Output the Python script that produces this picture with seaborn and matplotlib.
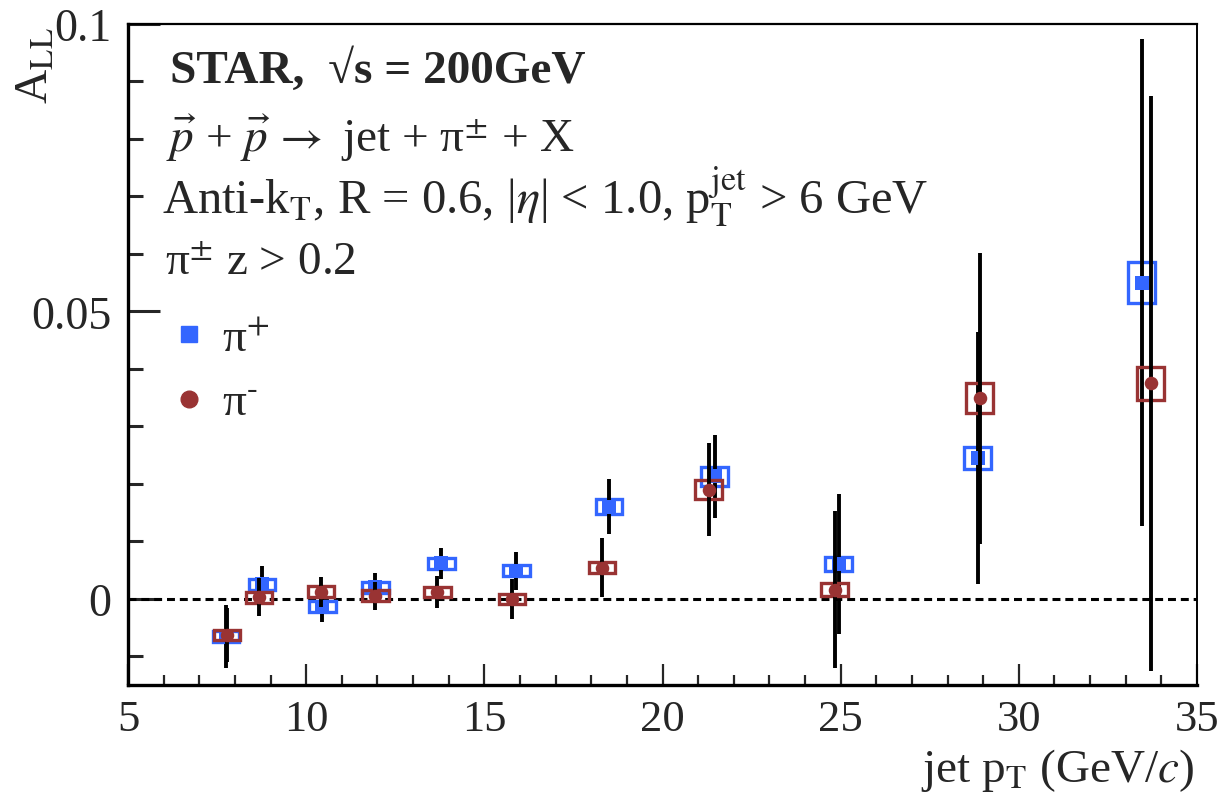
import numpy as np
import pandas as pd
import matplotlib
matplotlib.use("Agg")
import matplotlib.pyplot as plt
from matplotlib.patches import Rectangle
from matplotlib.lines import Line2D
from matplotlib.ticker import MultipleLocator, FixedLocator
import seaborn as sns

# values
pt_plus = [7.75, 8.76, 10.45, 11.94, 13.79, 15.9, 18.5, 21.46, 24.94, 28.85, 33.45]
all_plus = [-0.0066, 0.0025, -0.0014, 0.0020, 0.0062, 0.0049, 0.0160, 0.0213, 0.0060, 0.0245, 0.0550]
stat_plus = [0.0055, 0.0032, 0.0026, 0.0025, 0.0027, 0.0033, 0.0048, 0.0072, 0.0122, 0.0220, 0.0424]
sys_plus = [0.00095, 0.00095, 0.00095, 0.00095, 0.00095, 0.00095, 0.0013, 0.0016, 0.0012, 0.0019, 0.0036]

pt_minus = [7.78, 8.68, 10.42, 11.94, 13.68, 15.78, 18.3, 21.3, 24.83, 28.9, 33.7]
all_minus = [-0.0063, 0.0003, 0.0012, 0.0005, 0.0012, 0.0000, 0.0054, 0.0190, 0.0016, 0.0349, 0.0375]
stat_minus = [0.0047, 0.0033, 0.0026, 0.0025, 0.0028, 0.0035, 0.0051, 0.0081, 0.0137, 0.0253, 0.0500]
sys_minus = [0.00095, 0.00095, 0.00095, 0.00095, 0.0009, 0.0009, 0.00095, 0.0016, 0.0012, 0.0026, 0.0029]

x_ticks = [5, 10, 15, 20, 25, 30, 35]
y_ticks = [0, 0.05, 0.1]
y_tick_labels = ["0", "0.05", "0.1"]

labels = ["π$^{+}$", r"π$^{\text{-}}$"]
colors = {labels[0]: "#3366ff", labels[1]: "#993333"}
markers = {labels[0]: "s", labels[1]: "o"}

df = pd.concat([
    pd.DataFrame({"pt": pt_plus, "all": all_plus, "stat": stat_plus, "sys": sys_plus, "pion": labels[0]}),
    pd.DataFrame({"pt": pt_minus, "all": all_minus, "stat": stat_minus, "sys": sys_minus, "pion": labels[1]}),
], ignore_index=True)

sns.set_theme(style="white")
plt.rcParams["font.family"] = ["Liberation Serif", "DejaVu Serif"]
plt.rcParams["mathtext.fontset"] = "stix"

fig = plt.figure(figsize=(12.26, 8.03), dpi=100)
ax = fig.add_axes([128 / 1226, (803 - 686) / 803, (1197 - 128) / 1226, (686 - 25) / 803])

box_w = 0.75
z = 2
for lab in labels:
    sub = df[df["pion"] == lab]
    for _, r in sub.iterrows():
        ax.add_patch(Rectangle((r["pt"] - box_w / 2, r["all"] - r["sys"]), box_w, 2 * r["sys"],
                               fill=False, edgecolor=colors[lab], lw=2.4, zorder=z))
    ax.errorbar(sub["pt"], sub["all"], yerr=sub["stat"], fmt="none", ecolor="black",
                elinewidth=2.8, capsize=0, zorder=z + 1)
    sns.scatterplot(data=sub, x="pt", y="all", color=colors[lab], marker=markers[lab],
                    s=95, linewidth=0, ax=ax, zorder=z + 2, legend=False)
    z += 3

ax.axhline(0, color="black", lw=2.2, ls=(0, (2.6, 1.6)), zorder=1)

ax.set_xlim(5, 35)
ax.set_ylim(-0.015, 0.1)
ax.set_xlabel("")
ax.set_ylabel("")
ax.xaxis.set_major_locator(FixedLocator(x_ticks))
ax.xaxis.set_minor_locator(MultipleLocator(1))
ax.yaxis.set_major_locator(FixedLocator(y_ticks))
ax.yaxis.set_minor_locator(MultipleLocator(0.01))
ax.set_yticklabels(y_tick_labels)
ax.set_xticklabels([str(t) for t in x_ticks])

ax.tick_params(axis="y", which="major", direction="in", length=23, width=2.2, labelsize=33, pad=12,
               left=True, right=False)
ax.tick_params(axis="y", which="minor", direction="in", length=11, width=2.2, left=True, right=False)
ax.tick_params(axis="x", which="major", direction="in", length=15, width=1.6, labelsize=32, pad=10,
               bottom=True, top=False)
ax.tick_params(axis="x", which="minor", direction="in", length=7, width=1.6, bottom=True, top=False)

for side, lw in [("left", 2.4), ("bottom", 2.4), ("top", 1.6), ("right", 1.4)]:
    ax.spines[side].set_visible(True)
    ax.spines[side].set_linewidth(lw)
    ax.spines[side].set_color("black")

# annotation text
fs = 34
fig.text(170 / 1226, 1 - 83 / 803, "STAR,  √s = 200GeV", fontsize=fs,
         fontweight="bold", va="baseline", ha="left")
fig.text(166 / 1226, 1 - 152 / 803, r"$\vec{p}$ + $\vec{p}\,\rightarrow$ jet + π$^{\pm}$ + X",
         fontsize=fs, va="baseline", ha="left")
fig.text(162 / 1226, 1 - 215 / 803,
         r"Anti-k$_{\rm T}$, R = 0.6, |$\eta$| < 1.0, p$_{\rm T}^{\rm jet}$ > 6 GeV",
         fontsize=35, va="baseline", ha="left")
fig.text(165 / 1226, 1 - 275 / 803, r"π$^{\pm}$ z > 0.2", fontsize=fs, va="baseline", ha="left")

# legend
handles = [Line2D([], [], ls="none", marker=markers[l], color=colors[l], markersize=12) for l in labels]
ax.legend(handles, labels, loc="upper left", bbox_to_anchor=(0.035, 0.556), frameon=False,
          fontsize=fs, handletextpad=0.2, labelspacing=0.46, borderpad=0, borderaxespad=0,
          handlelength=1.0)

fig.text(36 / 1226, 1 - 27 / 803, r"A$_{\rm LL}$", fontsize=34, rotation=90, ha="center", va="top")
fig.text(1195 / 1226, 1 - 782 / 803, r"jet p$_{\rm T}$ (GeV/$c$)", fontsize=34, ha="right", va="baseline")

fig.savefig("out.png", dpi=100)
